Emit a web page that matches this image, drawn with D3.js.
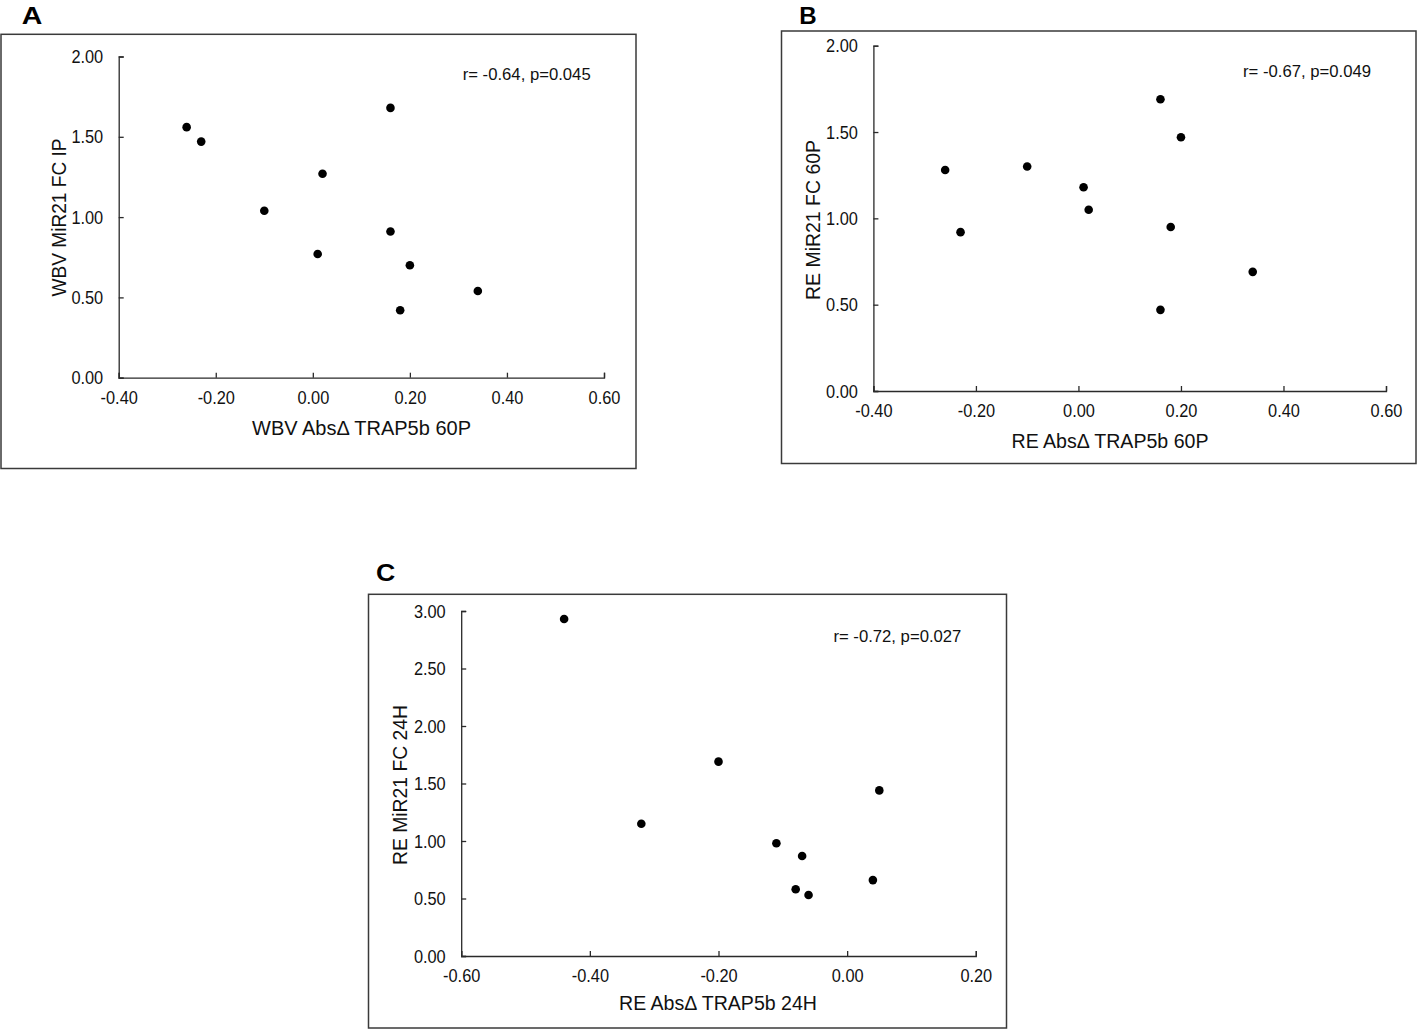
<!DOCTYPE html>
<html>
<head>
<meta charset="utf-8">
<script src="https://cdn.jsdelivr.net/npm/d3@7"></script>
<style>
  html, body { margin: 0; padding: 0; background: #fff; }
  svg { display: block; }
  text { font-family: "Liberation Sans", Arial, sans-serif; fill: #111; }
</style>
</head>
<body>
<svg id="chart" width="1417" height="1030"></svg>
<script>
// ---------------- data ----------------
const panelLetters = ["A", "B", "C"];

const aX = [-0.26, -0.23, -0.10, 0.02, 0.01, 0.16, 0.16, 0.20, 0.18, 0.34];
const aY = [1.56, 1.47, 1.04, 1.27, 0.77, 1.68, 0.91, 0.70, 0.42, 0.54];

const bX = [-0.26, -0.23, -0.10, 0.01, 0.02, 0.16, 0.20, 0.18, 0.16, 0.34];
const bY = [1.28, 0.92, 1.30, 1.18, 1.05, 1.69, 1.47, 0.95, 0.47, 0.69];

const cX = [-0.44, -0.20, -0.32, -0.11, -0.07, -0.08, -0.06, 0.04, 0.05];
const cY = [2.93, 1.69, 1.15, 0.98, 0.87, 0.58, 0.53, 0.66, 1.44];

const xTicksAB = [-0.4, -0.2, 0.0, 0.2, 0.4, 0.6];
const yTicksAB = [0.0, 0.5, 1.0, 1.5, 2.0];
const xTicksC = [-0.6, -0.4, -0.2, 0.0, 0.2];
const yTicksC = [0.0, 0.5, 1.0, 1.5, 2.0, 2.5, 3.0];

const xTitles = ["WBV Abs\u0394 TRAP5b 60P", "RE Abs\u0394 TRAP5b 60P", "RE Abs\u0394 TRAP5b 24H"];
const yTitles = ["WBV MiR21 FC IP", "RE MiR21 FC 60P", "RE MiR21 FC 24H"];
const statTexts = ["r= -0.64, p=0.045", "r= -0.67, p=0.049", "r= -0.72, p=0.027"];

// ---------------- layout (not data) ----------------
const layouts = [
  { box: [1, 34.3, 635, 434.2], plot: [118.7, 604, 56.5, 377.7],
    letter: [21.7, 24.3, 20.6], ylab: [65.5, 217.5, 158], xlab: [361.5, 435, 219], stat: [462.7, 80, 128] },
  { box: [781.5, 31, 634.5, 432.5], plot: [873.4, 1386, 45.7, 391],
    letter: [799.3, 24.3, 17.4], ylab: [820, 220, 160], xlab: [1110, 448, 197], stat: [1243, 77, 128] },
  { box: [368.5, 594.3, 638, 433.7], plot: [461.2, 975.8, 611, 956],
    letter: [376, 580.7, 19.3], ylab: [407, 785, 160], xlab: [718, 1010, 198], stat: [833.4, 642, 128] }
];

const panels = [
  { xs: aX, ys: aY, xTicks: xTicksAB, yTicks: yTicksAB },
  { xs: bX, ys: bY, xTicks: xTicksAB, yTicks: yTicksAB },
  { xs: cX, ys: cY, xTicks: xTicksC, yTicks: yTicksC }
];

const svg = d3.select("#chart");
const fmt = d => d.toFixed(2);

function squeeze(sel, ratio) {
  sel.each(function () {
    const L = this.getComputedTextLength();
    d3.select(this).attr("textLength", L * ratio).attr("lengthAdjust", "spacingAndGlyphs");
  });
}

panels.forEach((p, i) => {
  const L = layouts[i];
  const g = svg.append("g");

  // frame
  g.append("rect")
    .attr("x", L.box[0]).attr("y", L.box[1])
    .attr("width", L.box[2]).attr("height", L.box[3])
    .attr("fill", "none").attr("stroke", "#3a3a3a").attr("stroke-width", 1.5);

  // panel letter
  g.append("text")
    .attr("x", L.letter[0]).attr("y", L.letter[1])
    .attr("font-size", 23).attr("font-weight", "bold")
    .attr("textLength", L.letter[2]).attr("lengthAdjust", "spacingAndGlyphs")
    .style("fill", "#000")
    .text(panelLetters[i]);

  const xDom = d3.extent(p.xTicks);
  const yDom = d3.extent(p.yTicks);
  const x = d3.scaleLinear().domain(xDom).range([L.plot[0], L.plot[1]]);
  const y = d3.scaleLinear().domain(yDom).range([L.plot[3], L.plot[2]]);

  const xAxis = d3.axisBottom(x).tickValues(p.xTicks).tickFormat(fmt)
    .tickSize(-5).tickSizeOuter(-5).tickPadding(12.5);
  const yAxis = d3.axisLeft(y).tickValues(p.yTicks).tickFormat(fmt)
    .tickSize(-5).tickSizeOuter(-5).tickPadding(15.5);

  const gx = g.append("g").attr("transform", `translate(0,${L.plot[3]})`).call(xAxis);
  const gy = g.append("g").attr("transform", `translate(${L.plot[0]},0)`).call(yAxis);

  [gx, gy].forEach(ax => {
    ax.select(".domain").attr("stroke", "#2a2a2a").attr("stroke-width", 1.3);
    ax.selectAll(".tick line").attr("stroke", "#2a2a2a").attr("stroke-width", 1.3);
    ax.selectAll(".tick text")
      .attr("font-family", "Liberation Sans, Arial, sans-serif")
      .attr("font-size", 19).style("fill", "#111");
    squeeze(ax.selectAll(".tick text"), 0.86);
  });

  // points
  g.append("g").selectAll("circle")
    .data(p.xs.map((xv, k) => [xv, p.ys[k]]))
    .join("circle")
    .attr("cx", d => x(d[0]))
    .attr("cy", d => y(d[1]))
    .attr("r", 4.3)
    .attr("fill", "#000");

  // axis titles
  g.append("text")
    .attr("transform", `translate(${L.ylab[0]},${L.ylab[1]}) rotate(-90)`)
    .attr("text-anchor", "middle")
    .attr("font-size", 20.5)
    .attr("textLength", L.ylab[2]).attr("lengthAdjust", "spacingAndGlyphs")
    .text(yTitles[i]);

  g.append("text")
    .attr("x", L.xlab[0]).attr("y", L.xlab[1])
    .attr("text-anchor", "middle")
    .attr("font-size", 20)
    .attr("textLength", L.xlab[2]).attr("lengthAdjust", "spacingAndGlyphs")
    .text(xTitles[i]);

  // stats
  g.append("text")
    .attr("x", L.stat[0]).attr("y", L.stat[1])
    .attr("font-size", 17)
    .attr("textLength", L.stat[2]).attr("lengthAdjust", "spacingAndGlyphs")
    .text(statTexts[i]);
});
</script>
</body>
</html>
